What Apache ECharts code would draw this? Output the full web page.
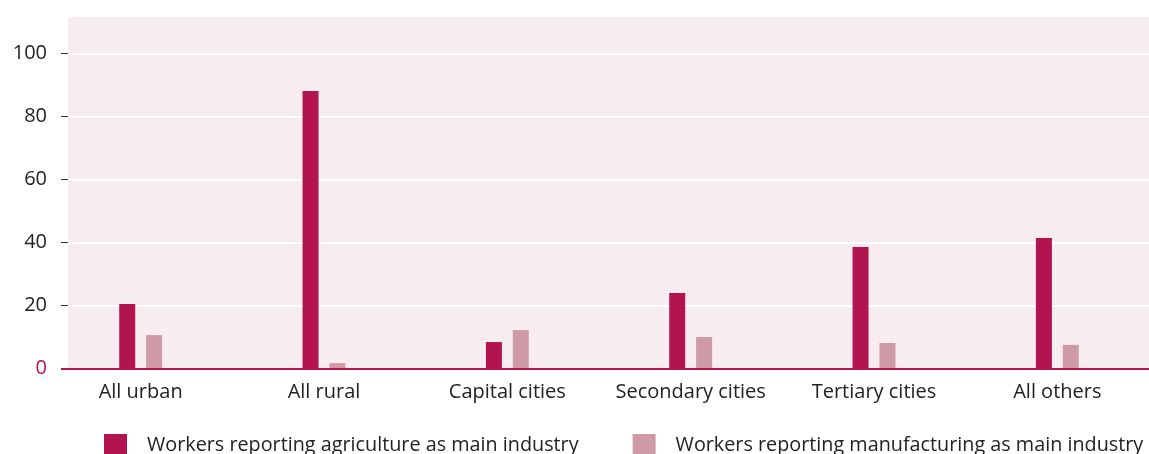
<!DOCTYPE html>
<html>
<head>
<meta charset="utf-8">
<script src="https://cdn.jsdelivr.net/npm/echarts@6/dist/echarts.min.js"></script>
<style>
  html, body { margin: 0; padding: 0; background: #ffffff; }
  #chart { width: 1149px; height: 454px; }
</style>
</head>
<body>
<div id="chart"></div>
<script>
const categories = ['All urban', 'All rural', 'Capital cities', 'Secondary cities', 'Tertiary cities', 'All others'];
const agricultureValues = [20.5, 88.1, 8.4, 24.0, 38.6, 41.4];
const manufacturingValues = [10.6, 1.7, 12.2, 10.0, 8.1, 7.5];
const seriesNames = ['Workers reporting agriculture as main industry', 'Workers reporting manufacturing as main industry'];
const yTicks = [0, 20, 40, 60, 80, 100];

const FONT = '"Open Sans", "Noto Sans", sans-serif';
const C1 = '#B2144F';
const C2 = '#CE9AA6';
const BG = '#F7ECF0';

const chart = echarts.init(document.getElementById('chart'), null, { renderer: 'canvas' });
chart.setOption({
  animation: false,
  backgroundColor: '#ffffff',
  textStyle: { fontFamily: FONT },
  grid: { left: 49, right: 0, top: 53.5, bottom: 85.5, containLabel: false },
  graphic: [
    { type: 'rect', z: -10, silent: true, shape: { x: 68, y: 17, width: 1081, height: 351.5 }, style: { fill: BG } },
    { type: 'line', z: 100, silent: true, shape: { x1: 61, y1: 369, x2: 1149, y2: 369 }, style: { stroke: C1, lineWidth: 2 } }
  ],
  legend: {
    left: 104, top: 434, padding: 0, width: 1400,
    itemWidth: 23, itemHeight: 23, itemGap: 54,
    icon: 'rect',
    textStyle: { fontFamily: FONT, fontSize: 19.8, color: '#222', padding: [18, 0, 0, 15] },
    data: seriesNames
  },
  xAxis: {
    type: 'category',
    data: categories,
    axisLine: { show: false },
    axisTick: { show: false },
    axisLabel: { fontFamily: FONT, fontSize: 20, color: '#222', margin: 14, interval: 0 }
  },
  yAxis: {
    type: 'value',
    min: yTicks[0], max: yTicks[yTicks.length - 1], interval: 20,
    offset: -19,
    axisLine: { show: false },
    axisTick: { show: true, length: 7, lineStyle: { color: '#333', width: 1 } },
    axisLabel: {
      fontFamily: FONT, fontSize: 20, margin: 21,
      color: function (v) { return Number(v) === 0 ? C1 : '#222'; }
    },
    splitLine: { show: true, lineStyle: { color: '#ffffff', width: 2 } }
  },
  series: [
    { name: seriesNames[0], type: 'bar', data: agricultureValues, barWidth: 16, barGap: '68%', itemStyle: { color: C1 } },
    { name: seriesNames[1], type: 'bar', data: manufacturingValues, barWidth: 16, barGap: '68%', itemStyle: { color: C2 } }
  ]
});
</script>
</body>
</html>
